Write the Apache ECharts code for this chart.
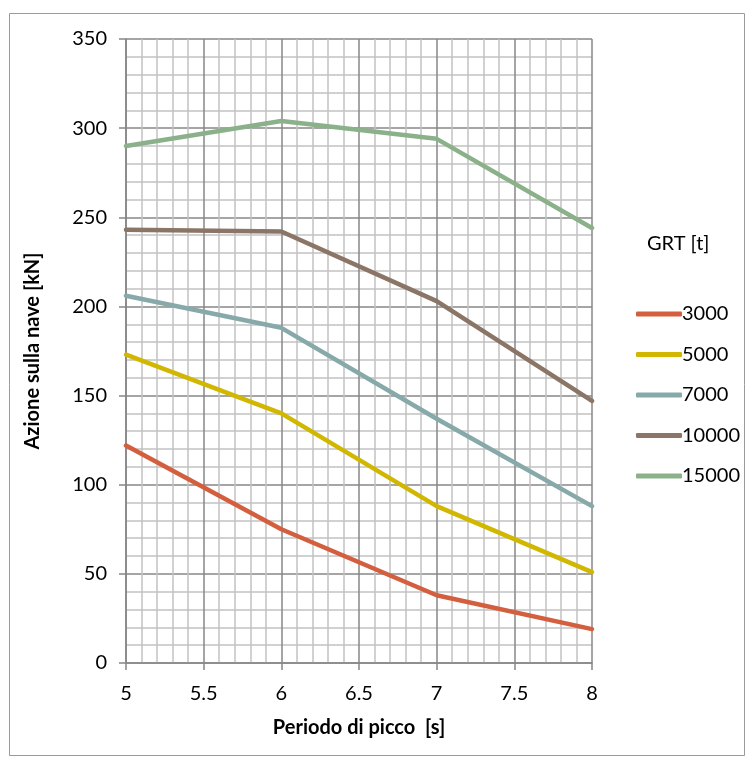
<!DOCTYPE html>
<html>
<head>
<meta charset="utf-8">
<script src="https://cdn.jsdelivr.net/npm/echarts@6/dist/echarts.min.js"></script>
<style>
  html, body { margin: 0; padding: 0; background: #fff; }
  #main { width: 749px; height: 760px; }
</style>
</head>
<body>
<div id="main"></div>
<script>
// periodo di picco [s]
const periods = [5, 6, 7, 8];
// azione sulla nave [kN] per GRT
const grt3000 = [122, 75, 38, 19];
const grt5000 = [173, 140, 88, 51];
const grt7000 = [206, 188, 137, 88];
const grt10000 = [243, 242, 203, 147];
const grt15000 = [290, 304, 294, 244];

const seriesNames = ['3000', '5000', '7000', '10000', '15000'];
const seriesData = [grt3000, grt5000, grt7000, grt10000, grt15000];
const colors = ['#d35f3f', '#d1b700', '#87a9aa', '#8a7566', '#8bb18a'];

const fontFam = 'Lato, "Open Sans", sans-serif';

let myChart = echarts.init(document.getElementById('main'));

myChart.setOption({
    animation: false,
    color: colors,
    textStyle: { fontFamily: fontFam },
    grid: {
        left: 126,
        top: 39,
        width: 466,
        height: 624,
        containLabel: false
    },
    graphic: [
        {
            type: 'rect',
            shape: { x: 9.5, y: 13.5, width: 735, height: 742 },
            style: { fill: 'none', stroke: '#9a9a9a', lineWidth: 1 },
            z: -10
        },
        {
            type: 'text',
            left: 647,
            top: 234,
            style: { text: 'GRT [t]', fontSize: 20, fontFamily: fontFam, fill: '#000' }
        }
    ],
    legend: {
        orient: 'vertical',
        left: 631,
        top: 299,
        itemWidth: 46,
        itemHeight: 5,
        itemGap: 20.5,
        icon: 'roundRect',
        textStyle: { fontSize: 20, lineHeight: 20, color: '#000', padding: [0, 0, 0, -5] },
        data: seriesNames
    },
    xAxis: {
        type: 'value',
        min: 5,
        max: 8,
        interval: 0.5,
        name: 'Periodo di picco  [s]',
        nameLocation: 'middle',
        nameGap: 55,
        nameTextStyle: { fontSize: 20, fontWeight: 'bold', color: '#000' },
        axisLine: { show: true, onZero: false, lineStyle: { color: '#868686', width: 1.5 } },
        axisTick: { show: true, length: 7, lineStyle: { color: '#868686', width: 1.5 } },
        axisLabel: { fontSize: 20, color: '#000', margin: 21 },
        splitLine: { show: true, lineStyle: { color: '#878787', width: 1.5 } },
        minorTick: { show: false, splitNumber: 5 },
        minorSplitLine: { show: true, lineStyle: { color: '#c2c2c2', width: 1.5 } }
    },
    yAxis: {
        type: 'value',
        min: 0,
        max: 350,
        interval: 50,
        name: 'Azione sulla nave [kN]',
        nameLocation: 'middle',
        nameGap: 83,
        nameRotate: 90,
        nameTextStyle: { fontSize: 20, fontWeight: 'bold', color: '#000' },
        axisLine: { show: true, lineStyle: { color: '#868686', width: 1.5 } },
        axisTick: { show: true, length: 7, lineStyle: { color: '#868686', width: 1.5 } },
        axisLabel: { fontSize: 20, color: '#000', margin: 19 },
        splitLine: { show: true, lineStyle: { color: '#878787', width: 1.5 } },
        minorTick: { show: false, splitNumber: 5 },
        minorSplitLine: { show: true, lineStyle: { color: '#c2c2c2', width: 1.5 } }
    },
    series: seriesNames.map((name, i) => ({
        name: name,
        type: 'line',
        symbol: 'none',
        lineStyle: { width: 4.5, color: colors[i], cap: 'round', join: 'round' },
        itemStyle: { color: colors[i] },
        data: periods.map((p, j) => [p, seriesData[i][j]])
    }))
});
</script>
</body>
</html>
